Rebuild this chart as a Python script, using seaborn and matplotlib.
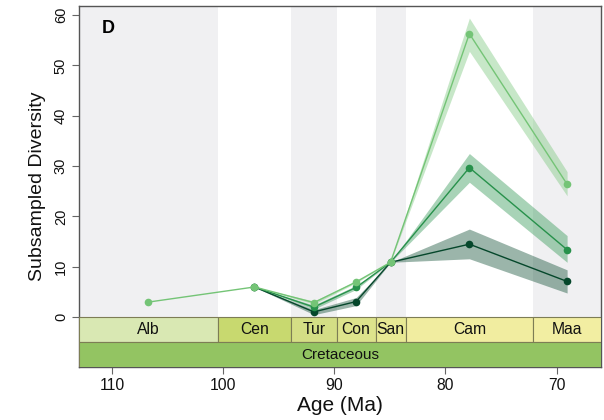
import numpy as np
import pandas as pd
import matplotlib
matplotlib.use("Agg")
import matplotlib.pyplot as plt
from matplotlib.patches import Rectangle
import seaborn as sns

# ---- data ----
stages = ["Alb", "Cen", "Tur", "Con", "San", "Cam", "Maa"]
stage_old = [113.0, 100.5, 93.9, 89.8, 86.3, 83.6, 72.1]
stage_young = [100.5, 93.9, 89.8, 86.3, 83.6, 72.1, 66.0]
stage_colors = ["#d9e8b3", "#c8d96f", "#d4de85", "#dde38c", "#e8e994", "#f1eda0", "#f2eea2"]
period_name = "Cretaceous"
period_color = "#93c462"
mid_ages = [(o + y) / 2 for o, y in zip(stage_old, stage_young)]

light_mean = [3.0, 6.0, 2.9, 7.0, 10.9, 56.3, 26.4]
light_lo = [3.0, 6.0, 2.6, 6.8, 10.9, 52.8, 24.1]
light_hi = [3.0, 6.0, 3.2, 7.2, 10.9, 59.4, 28.9]

medium_mean = [np.nan, 6.0, 2.0, 5.9, 10.9, 29.7, 13.4]
medium_lo = [np.nan, 6.0, 1.6, 5.5, 10.9, 26.8, 10.9]
medium_hi = [np.nan, 6.0, 2.4, 6.3, 10.9, 32.5, 16.2]

dark_mean = [np.nan, 6.0, 1.05, 3.1, 10.9, 14.5, 7.1]
dark_lo = [np.nan, 6.0, 0.5, 2.3, 10.9, 11.6, 4.8]
dark_hi = [np.nan, 6.0, 1.5, 3.9, 10.9, 17.5, 9.4]

series_names = ["dark", "medium", "light"]
series_colors = {"light": "#74c476", "medium": "#27914b", "dark": "#05472b"}

rows = []
for name, m, lo, hi in [("dark", dark_mean, dark_lo, dark_hi),
                        ("medium", medium_mean, medium_lo, medium_hi),
                        ("light", light_mean, light_lo, light_hi)]:
    for a, v, l, h in zip(mid_ages, m, lo, hi):
        if not np.isnan(v):
            rows.append({"series": name, "age": a, "div": v, "lo": l, "hi": h})
df = pd.DataFrame(rows)

# ---- style ----
sns.set_style("white")
plt.rcParams["font.family"] = ["Liberation Sans", "DejaVu Sans"]
plt.rcParams["text.color"] = "black"
plt.rcParams["axes.labelcolor"] = "black"

fig = plt.figure(figsize=(6.04, 4.20), dpi=100)
ax = fig.add_axes([0.1308, 0.1255, 0.8642, 0.8602])

# background alternating stripes
for i, (o, y) in enumerate(zip(stage_old, stage_young)):
    if i % 2 == 0:
        ax.axvspan(y, o, color="#f0f0f2", lw=0, zorder=0)

# confidence ribbons
for name in ["light", "medium", "dark"]:
    sub = df[df.series == name].sort_values("age")
    ax.fill_between(sub["age"], sub["lo"], sub["hi"], color=series_colors[name],
                    alpha=0.4, lw=0, zorder=1)

sns.lineplot(data=df, x="age", y="div", hue="series", hue_order=series_names,
             palette=series_colors, marker="o", markersize=5.5, markeredgewidth=0,
             linewidth=1.0, errorbar=None, legend=False, ax=ax, zorder=3)

# time scale bands
for name, o, y, c in zip(stages, stage_old, stage_young, stage_colors):
    ax.add_patch(Rectangle((y, -5), o - y, 5, facecolor=c, edgecolor="#7d7d55",
                           lw=0.8, zorder=4))
    ax.text((o + y) / 2, -2.5, name, ha="center", va="center", fontsize=11.3,
            color="#111111", zorder=5)
ax.add_patch(Rectangle((stage_young[-1], -10), stage_old[0] - stage_young[-1], 5,
                       facecolor=period_color, edgecolor="#7d7d55", lw=0.8, zorder=4))
ax.text((stage_old[0] + stage_young[-1]) / 2, -7.5, period_name, ha="center",
        va="center", fontsize=11, color="#111111", zorder=5)

ax.set_xlim(113.0, 66.0)
ax.set_ylim(-9.95, 61.8)
ax.set_xticks([110, 100, 90, 80, 70])
ax.set_yticks([0, 10, 20, 30, 40, 50, 60])
ax.tick_params(axis="y", labelrotation=90, labelsize=10.5, length=5, width=0.8,
               color="#666666", labelcolor="#111111", left=True, pad=3)
ax.tick_params(axis="x", labelsize=11.3, length=5, width=0.8, color="#666666",
               labelcolor="#111111", bottom=True, pad=3)
for lab in ax.get_yticklabels():
    lab.set_va("center")
for s in ax.spines.values():
    s.set_color("#555555")
    s.set_linewidth(1.0)

ax.set_xlabel("Age (Ma)", fontsize=15, labelpad=2, color="#111111")
ax.set_ylabel("Subsampled Diversity", fontsize=14, labelpad=6, color="#111111")
ax.text(0.056, 0.939, "D", transform=ax.transAxes, fontsize=13, fontweight="bold",
        ha="center", va="center", color="black", zorder=6)

fig.savefig("out.png", dpi=100)
